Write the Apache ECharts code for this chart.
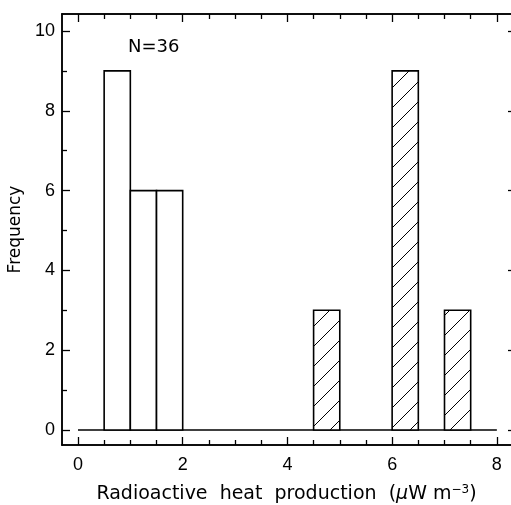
<!DOCTYPE html>
<html>
<head>
<meta charset="utf-8">
<script src="https://cdn.jsdelivr.net/npm/echarts@6/dist/echarts.min.js"></script>
<style>html,body{margin:0;padding:0;background:#fff;}#c{width:511px;height:505px;}</style>
</head>
<body>
<div id="c"></div>
<script>
// Histogram data
const binStart = [0.5, 1.0, 1.5, 4.5, 6.0, 7.0];
const binEnd   = [1.0, 1.5, 2.0, 5.0, 6.5, 7.5];
const counts   = [9, 6, 6, 3, 9, 3];
const hatched  = [false, false, false, true, true, true];
const xMajorTicks = [0, 2, 4, 6, 8];
const xMinorTicks = [0.5, 1, 1.5, 2.5, 3, 3.5, 4.5, 5, 5.5, 6.5, 7, 7.5];
const yMajorTicks = [0, 2, 4, 6, 8, 10];
const yMinorTicks = [1, 3, 5, 7, 9];
const baselineX = [0, 8];
const noteText = 'N=36';

const FONT = 'Liberation Sans';
const TFONT = 'DejaVu Sans';

// hatch pattern
const pc = document.createElement('canvas');
pc.width = 20; pc.height = 20;
const g = pc.getContext('2d');
g.fillStyle = '#fff'; g.fillRect(0,0,20,20);
g.strokeStyle = '#000'; g.lineWidth = 1;
for (const k of [-20, 0, 20]) { g.beginPath(); g.moveTo(k, 20); g.lineTo(k + 20, 0); g.stroke(); }

const barData = binStart.map((s, i) => [s, binEnd[i], counts[i], hatched[i] ? 1 : 0]);

const xMin = -0.305, xMax = 8.27, yMin = -0.375, yMax = 10.425;

function xAxisDef(pos, ticks, len, showLabel, extra) {
  return Object.assign({
    type: 'value', position: pos, min: xMin, max: xMax, gridIndex: 0,
    axisLine: { show: true, onZero: false, lineStyle: { color: '#000', width: 1.5 } },
    axisTick: { show: true, inside: true, length: len, customValues: ticks, lineStyle: { color: '#000', width: 1.3 } },
    axisLabel: { show: showLabel, customValues: ticks, color: '#000', fontFamily: FONT, fontSize: 18, margin: 11 },
    splitLine: { show: false }
  }, extra || {});
}
function yAxisDef(pos, ticks, len, showLabel, extra) {
  return Object.assign({
    type: 'value', position: pos, min: yMin, max: yMax, gridIndex: 0,
    axisLine: { show: true, onZero: false, lineStyle: { color: '#000', width: 1.5 } },
    axisTick: { show: true, inside: true, length: len, customValues: ticks, lineStyle: { color: '#000', width: 1.3 } },
    axisLabel: { show: showLabel, customValues: ticks, color: '#000', fontFamily: FONT, fontSize: 18, margin: 7 },
    splitLine: { show: false }
  }, extra || {});
}

const chart = echarts.init(document.getElementById('c'), null, { renderer: 'canvas' });
chart.setOption({
  animation: false,
  backgroundColor: '#fff',
  grid: { left: 62, top: 14, right: 0, bottom: 60, containLabel: false, outerBoundsMode: 'none' },
  xAxis: [
    xAxisDef('bottom', xMajorTicks, 8, true, {
      name: '{t|Radioactive  heat  production  (}{mu|μ}{t|W m}{sup|−3}{t|)}',
      nameLocation: 'middle', nameGap: 39,
      nameTextStyle: { rich: {
        t: { fontFamily: TFONT, fontSize: 19, color: '#000' },
        mu: { fontFamily: TFONT, fontSize: 19, color: '#000', fontStyle: 'italic' },
        sup: { fontFamily: TFONT, fontSize: 12, color: '#000', verticalAlign: 'top', padding: [0,0,9,0] }
      } }
    }),
    xAxisDef('bottom', xMinorTicks, 5, false),
    xAxisDef('top', xMajorTicks, 8, false),
    xAxisDef('top', xMinorTicks, 5, false)
  ],
  yAxis: [
    yAxisDef('left', yMajorTicks, 8, true, {
      name: 'Frequency', nameLocation: 'middle', nameGap: 31,
      nameTextStyle: { fontFamily: TFONT, fontSize: 17, color: '#000' }
    }),
    yAxisDef('left', yMinorTicks, 5, false),
    yAxisDef('right', yMajorTicks, 3, false, { axisLine: { show: false, onZero: false } })
  ],
  graphic: [{
    type: 'text', left: 128, top: 38,
    style: { text: noteText, font: '18px "' + TFONT + '"', fill: '#000' }
  }],
  series: [
    {
      type: 'line', xAxisIndex: 0, yAxisIndex: 0,
      data: baselineX.map(x => [x, 0]),
      symbol: 'none', lineStyle: { color: '#000', width: 1.5 }, z: 1
    },
    {
      type: 'custom', xAxisIndex: 0, yAxisIndex: 0, z: 3,
      data: barData,
      renderItem: function (params, api) {
        const p0 = api.coord([api.value(0), api.value(2)]);
        const p1 = api.coord([api.value(1), 0]);
        const fill = api.value(3) ? { image: pc, repeat: 'repeat' } : '#fff';
        return {
          type: 'rect',
          shape: { x: p0[0], y: p0[1], width: p1[0] - p0[0], height: p1[1] - p0[1] },
          style: { fill: fill, stroke: '#000', lineWidth: 1.6 }
        };
      }
    }
  ]
});
</script>
</body>
</html>
